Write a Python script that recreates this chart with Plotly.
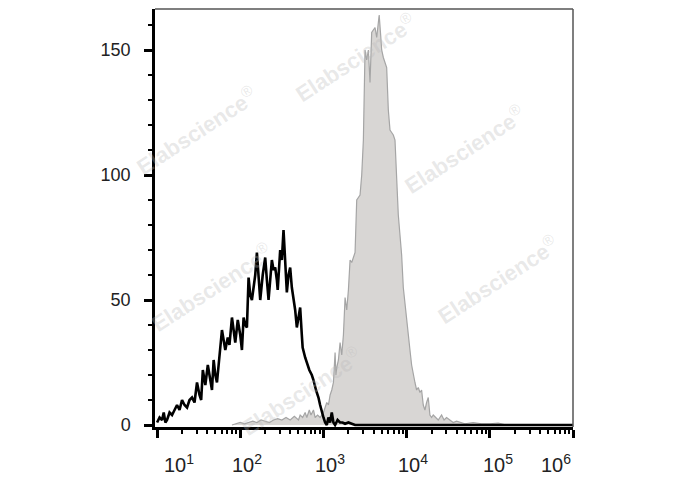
import plotly.graph_objects as go
import math

# ---- data (x = log10 fluorescence intensity, y = cell count) ----
ctrl_logx = [1.00, 1.03, 1.06, 1.08, 1.10, 1.12, 1.15, 1.18, 1.21, 1.24, 1.27, 1.30, 1.33, 1.36,
             1.39, 1.42, 1.45, 1.48, 1.51, 1.53, 1.55, 1.58, 1.61, 1.64, 1.66, 1.68, 1.70, 1.72,
             1.75, 1.78, 1.80, 1.82, 1.85, 1.87, 1.90, 1.92, 1.94, 1.97, 2.00, 2.02, 2.04, 2.06,
             2.08, 2.10, 2.12, 2.14, 2.16, 2.18, 2.20, 2.22, 2.24, 2.27, 2.30, 2.32, 2.34, 2.36,
             2.38, 2.40, 2.42, 2.44, 2.45, 2.48, 2.50, 2.52, 2.54, 2.56, 2.58, 2.60, 2.62, 2.64,
             2.66, 2.68, 2.70, 2.72, 2.74, 2.75, 2.78, 2.80, 2.83, 2.86, 2.88, 2.91, 2.94, 2.96,
             2.98, 3.00, 3.02, 3.04, 3.06, 3.08, 3.10, 3.12, 3.14, 3.17, 3.20, 3.23, 3.26, 3.30,
             3.34, 3.38, 3.50, 6.00]
ctrl_count = [1, 3, 2, 5, 1, 2, 5, 4, 6, 8, 6, 10, 8, 7,
              10, 11, 9, 17, 12, 10, 22, 16, 24, 18, 14, 26, 20, 17,
              28, 38, 34, 30, 35, 32, 43, 38, 33, 42, 36, 30, 43, 40,
              39, 59, 52, 50, 56, 60, 69, 58, 50, 60, 67, 58, 50, 58,
              66, 62, 63, 58, 54, 70, 66, 78, 62, 53, 60, 63, 55, 51,
              46, 39, 44, 47, 36, 31, 27, 25, 22, 20, 18, 14, 11, 8,
              5, 3, 1, 0, 3, 1, 5, 1, 0, 2, 1, 1, 0.5, 1,
              0.5, 0, 0, 0]

stain_logx = [1.90, 1.95, 2.00, 2.05, 2.10, 2.15, 2.20, 2.25, 2.30, 2.35, 2.40, 2.45, 2.50, 2.55,
              2.60, 2.65, 2.70, 2.72, 2.75, 2.78, 2.80, 2.83, 2.85, 2.88, 2.90, 2.93, 2.96, 2.98,
              3.00, 3.02, 3.04, 3.06, 3.08, 3.10, 3.12, 3.14, 3.15, 3.16, 3.18, 3.20, 3.22, 3.24,
              3.26, 3.28, 3.30, 3.32, 3.34, 3.36, 3.38, 3.40, 3.42, 3.44, 3.46, 3.48, 3.50, 3.52,
              3.54, 3.56, 3.58, 3.60, 3.62, 3.64, 3.66, 3.67, 3.69, 3.70, 3.72, 3.74, 3.76, 3.78,
              3.80, 3.82, 3.84, 3.86, 3.88, 3.90, 3.92, 3.94, 3.96, 3.98, 4.00, 4.02, 4.04, 4.06,
              4.08, 4.10, 4.12, 4.14, 4.16, 4.18, 4.20, 4.22, 4.24, 4.26, 4.28, 4.30, 4.32, 4.35,
              4.38, 4.42, 4.45, 4.48, 4.52, 4.56, 4.60, 4.64, 4.70, 4.80, 4.90, 5.00, 5.10, 5.20,
              6.00]
stain_count = [0, 0.5, 1, 0.5, 1, 1.5, 1, 2, 1.5, 1, 2, 2.5, 2, 3,
               2, 3.5, 2, 4, 3, 5, 3, 6, 4, 6, 3, 4, 3, 4,
               5, 7, 9, 8, 12, 14, 17, 29, 20, 23, 26, 33, 28, 36,
               51, 46, 54, 66, 65, 67, 69, 90, 91, 92, 100, 114, 150, 146,
               150, 137, 157, 158, 159, 155, 160, 164, 155, 150, 147, 145, 143, 126,
               118, 117, 116, 114, 95, 84, 76, 68, 55, 48, 42, 37, 30, 24,
               20, 17, 14, 15, 13, 14, 8, 6, 9, 11, 4, 3, 4, 3,
               2, 4, 2, 3, 2, 1, 1.5, 1, 0.5, 1, 0.5, 0.5, 0.8, 0,
               0]

y_major = [0, 50, 100, 150]
x_decades = [1, 2, 3, 4, 5, 6]
x_label_pos = [1.26, 2.08, 3.08, 4.08, 5.10, 5.80]
x_label_text = ["10<sup>1</sup>", "10<sup>2</sup>", "10<sup>3</sup>",
                "10<sup>4</sup>", "10<sup>5</sup>", "10<sup>6</sup>"]

watermark_pos = [(0.48, 0.885), (0.10, 0.71), (0.74, 0.665), (0.82, 0.355), (0.135, 0.335), (0.35, 0.085)]

FONT = "Arial, Liberation Sans, sans-serif"

fig = go.Figure()
fig.add_trace(go.Scatter(
    x=stain_logx, y=stain_count, mode="lines", fill="tozeroy",
    line=dict(color="rgb(165,165,165)", width=1.2),
    fillcolor="rgb(216,214,212)", showlegend=False, hoverinfo="skip"))
fig.add_trace(go.Scatter(
    x=ctrl_logx, y=ctrl_count, mode="lines",
    line=dict(color="black", width=2.6),
    showlegend=False, hoverinfo="skip"))

minor_x = [d + math.log10(k) for d in x_decades[:-1] for k in range(2, 10)]

fig.update_xaxes(
    range=[0.975, 6.0], showgrid=False, zeroline=False,
    showline=True, linecolor="black", linewidth=2.5,
    ticks="outside", ticklen=8, tickwidth=2.5, tickcolor="black",
    tickmode="array", tickvals=x_decades, showticklabels=False,
    minor=dict(tickmode="array", tickvals=minor_x, ticks="outside",
               ticklen=4, tickwidth=1.5, tickcolor="black"))
fig.update_yaxes(
    range=[-0.8, 166.4], showgrid=False, zeroline=False,
    showline=True, linecolor="black", linewidth=2.5,
    ticks="outside", ticklen=8, tickwidth=2.5, tickcolor="black",
    tickmode="array", tickvals=y_major,
    tickfont=dict(family=FONT, size=18, color="#222"),
    ticklabelstandoff=10,
    minor=dict(dtick=10, ticks="outside", ticklen=4, tickwidth=1.5, tickcolor="black"))

# thin frame on top and right
fig.add_shape(type="line", xref="paper", yref="paper", x0=0, x1=1, y0=1, y1=1,
              line=dict(color="#555", width=1.5))
fig.add_shape(type="line", xref="paper", yref="paper", x0=1, x1=1, y0=0, y1=1,
              line=dict(color="#555", width=1.5))

for xp, txt in zip(x_label_pos, x_label_text):
    fig.add_annotation(x=xp, y=0, xref="x", yref="paper", yanchor="top", yshift=-22,
                       text=txt, showarrow=False,
                       font=dict(family=FONT, size=20, color="#222"))

for (wx, wy) in watermark_pos:
    fig.add_annotation(x=wx, y=wy, xref="paper", yref="paper",
                       xanchor="center", yanchor="middle",
                       text="<b>Elabscience</b><sup>®</sup>", showarrow=False, textangle=-33,
                       font=dict(family=FONT, size=22, color="rgba(185,185,185,0.33)"))

fig.update_layout(
    width=688, height=490,
    margin=dict(l=147, r=123, t=1, b=71),
    paper_bgcolor="white", plot_bgcolor="white",
    font=dict(family=FONT))

fig.write_html("out.html")
